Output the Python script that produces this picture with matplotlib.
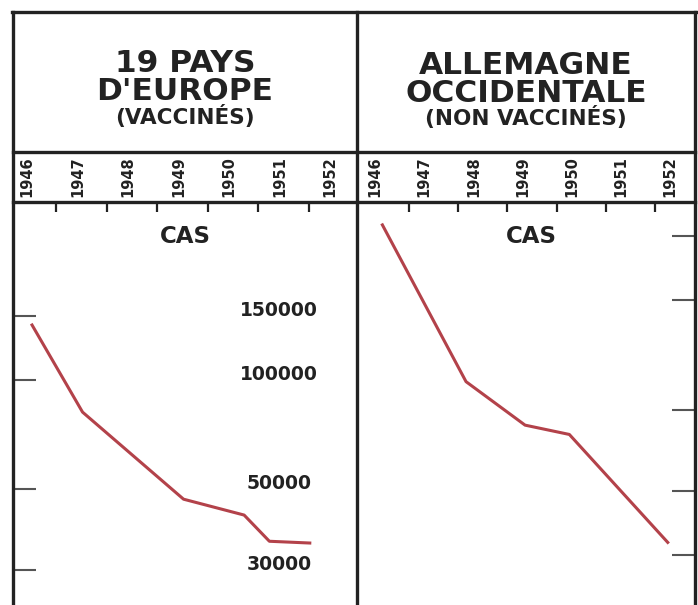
import matplotlib
matplotlib.use("Agg")
import matplotlib.pyplot as plt
from matplotlib.lines import Line2D
import matplotlib.transforms as mtransforms

plt.rcParams['font.family'] = ['DejaVu Sans']

W, H = 698, 605

years = [1946, 1947, 1948, 1949, 1950, 1951, 1952]

# 19 pays d'Europe (vaccinés)
eu_x = [1946.1, 1947.1, 1949.1, 1950.3, 1950.8, 1951.6]
eu_cas = [141700, 81600, 47000, 42500, 36000, 35600]

# Allemagne occidentale (non vaccinés)
de_x = [1946.15, 1947.85, 1949.05, 1949.95, 1951.95]
de_cas = [161400, 59800, 45400, 42800, 21600]

eu_ticks = [150000, 100000, 50000, 30000]
de_ticks = [150000, 100000, 50000, 30000, 20000]

line_color = '#b3424a'
ink = '#222222'


def fx(px):
    return px / W


def fy(py):
    return 1 - py / H


fig = plt.figure(figsize=(W / 100, H / 100), dpi=100)
fig.patch.set_facecolor('white')

ax1 = fig.add_axes([fx(13), 0, fx(357) - fx(13), fy(202)])
ax2 = fig.add_axes([fx(357), 0, fx(695) - fx(357), fy(202)])

panels = [
    (ax1, eu_x, eu_cas, eu_ticks, (1945.723, 1952.535), (24040, 308900), 0.58, 0.50),
    (ax2, de_x, de_cas, de_ticks, (1945.634, 1952.504), (14530, 186600), 0.69, 0.515),
]

for ax, xs, ys, yt, xl, yl, off, cas_x in panels:
    ax.set_yscale('log')
    ax.plot(xs, ys, color=line_color, lw=2.2, solid_joinstyle='round')
    ax.set_xlim(*xl)
    ax.set_ylim(*yl)
    for s in ax.spines.values():
        s.set_visible(False)
    ax.minorticks_off()
    ax.set_yticks(yt)
    ax.set_xticks([y + off for y in years[:-1]])
    ax.xaxis.tick_top()
    ax.tick_params(axis='x', direction='in', length=7.5, width=1.6,
                   color=ink, labeltop=False, labelbottom=False)
    ax.tick_params(axis='y', direction='in', length=16.5, width=1.5,
                   color='#555555', labelleft=False, labelright=False)
    trans = mtransforms.blended_transform_factory(ax.transData, ax.transAxes)
    for yr in years:
        ax.text(yr, 1 + 25 / 403, str(yr), transform=trans, rotation=90,
                ha='center', va='center', fontsize=10.5, fontweight='bold',
                color=ink, clip_on=False)
    ax.text(cas_x, (605 - 243) / 403, "CAS", transform=ax.transAxes,
            ha='center', va='baseline', fontsize=16.5, fontweight='bold', color=ink)

ax2.yaxis.tick_right()
ax2.tick_params(axis='y', labelright=False)

# valeurs de l'échelle (panneau gauche)
vtrans = mtransforms.blended_transform_factory(ax1.transAxes, ax1.transData)
for v in eu_ticks:
    ax1.text(0.773, v, str(v), transform=vtrans, ha='center', va='baseline',
             fontsize=13.5, fontweight='bold', color=ink)

# titres
fig.text(fx(185), fy(72), "19 PAYS", ha='center', va='baseline',
         fontsize=22.5, fontweight='bold', color=ink)
fig.text(fx(185), fy(100), "D'EUROPE", ha='center', va='baseline',
         fontsize=22.5, fontweight='bold', color=ink)
fig.text(fx(185), fy(124), "(VACCINÉS)", ha='center', va='baseline',
         fontsize=15.5, fontweight='bold', color=ink)
fig.text(fx(526), fy(74), "ALLEMAGNE", ha='center', va='baseline',
         fontsize=22.5, fontweight='bold', color=ink)
fig.text(fx(526), fy(102), "OCCIDENTALE", ha='center', va='baseline',
         fontsize=22.5, fontweight='bold', color=ink)
fig.text(fx(526), fy(125), "(NON VACCINÉS)", ha='center', va='baseline',
         fontsize=15.5, fontweight='bold', color=ink)

# cadre
frame = dict(color=ink, lw=2.4, solid_capstyle='projecting')
fig.add_artist(Line2D([fx(12), fx(696)], [fy(12), fy(12)], **frame))
fig.add_artist(Line2D([fx(13), fx(695)], [fy(152), fy(152)], **frame))
fig.add_artist(Line2D([fx(13), fx(695)], [fy(202), fy(202)], **frame))
for xp in (13, 357, 695):
    fig.add_artist(Line2D([fx(xp), fx(xp)], [fy(12), fy(606)], **frame))

fig.savefig('out.png', dpi=100)
